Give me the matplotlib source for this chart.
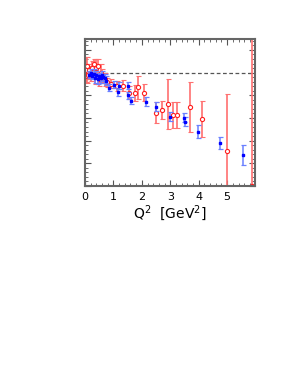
import matplotlib
matplotlib.use('Agg')
import matplotlib.pyplot as plt
import numpy as np
from matplotlib.ticker import MultipleLocator, NullFormatter

# red open circles: Q^2, ratio, error
red_q2 = [0.02, 0.03, 0.04, 0.05, 0.06, 0.08, 0.10, 0.12, 0.15, 0.20, 0.25, 0.30,
          0.35, 0.40, 0.45, 0.50, 0.55, 0.60, 0.70, 0.79, 0.92, 1.14, 1.35, 1.56,
          1.76, 1.86, 2.09, 2.51, 2.70, 2.91, 3.10, 3.25, 3.71, 4.12, 5.00, 5.87]
red_val = [1.00, 1.02, 0.99, 1.01, 0.985, 1.03, 1.00, 0.99, 1.01, 0.995, 1.02, 1.04,
           0.98, 1.02, 1.03, 0.97, 1.00, 0.985, 0.97, 0.957, 0.950, 0.941, 0.943, 0.912,
           0.909, 0.935, 0.912, 0.824, 0.836, 0.862, 0.812, 0.812, 0.850, 0.796, 0.654, 0.498]
red_err = [0.04, 0.05, 0.03, 0.02, 0.03, 0.04, 0.03, 0.02, 0.03, 0.03, 0.03, 0.02,
           0.03, 0.04, 0.03, 0.03, 0.04, 0.03, 0.03, 0.02, 0.02, 0.02, 0.025, 0.03,
           0.035, 0.05, 0.037, 0.045, 0.04, 0.11, 0.057, 0.057, 0.11, 0.08, 0.25, 0.70]

# blue filled squares
blue_q2 = [0.15, 0.20, 0.25, 0.30, 0.35, 0.40, 0.45, 0.50, 0.55, 0.60, 0.65, 0.70,
           0.75, 0.86, 1.03, 1.15, 1.21, 1.50, 1.53, 1.62, 2.15, 2.49, 2.99, 3.49,
           3.51, 3.98, 4.75, 5.55]
blue_val = [0.99, 1.00, 0.985, 0.995, 0.975, 0.99, 0.97, 0.985, 0.975, 0.99, 0.98, 0.975,
            0.965, 0.934, 0.946, 0.913, 0.943, 0.899, 0.943, 0.876, 0.872, 0.850, 0.805, 0.800,
            0.784, 0.740, 0.690, 0.637]
blue_err = [0.015, 0.015, 0.015, 0.02, 0.02, 0.015, 0.02, 0.015, 0.02, 0.015, 0.015, 0.02,
            0.02, 0.015, 0.015, 0.015, 0.015, 0.015, 0.015, 0.015, 0.02, 0.02, 0.02, 0.02,
            0.02, 0.027, 0.027, 0.045]

fig = plt.figure(figsize=(2.84, 3.67), dpi=100)
ax = fig.add_axes([0.2993, 0.4932, 0.5986, 0.4005])

ax.axhline(1.0, color='#555555', ls=(0, (3, 2)), lw=0.9, zorder=1)

ax.errorbar(red_q2, red_val, yerr=red_err, fmt='o', mfc='white', mec='#ff2020',
            ms=3.0, mew=0.8, ecolor='#ff7070', elinewidth=1.2, capsize=1.8,
            capthick=0.9, zorder=2)
ax.errorbar(blue_q2, blue_val, yerr=blue_err, fmt='s', mfc='#0000ff', mec='#0000ff',
            ms=1.6, ecolor='#6a80ff', elinewidth=1.1, capsize=1.8, capthick=0.9,
            zorder=3)

ax.set_xlim(0, 5.98)
ax.set_ylim(0.5, 1.148)
ax.xaxis.set_major_locator(MultipleLocator(1))
ax.xaxis.set_minor_locator(MultipleLocator(0.2))
ax.yaxis.set_major_locator(MultipleLocator(0.1))
ax.yaxis.set_minor_locator(MultipleLocator(0.02))
ax.yaxis.set_major_formatter(NullFormatter())
ax.set_xticks([0, 1, 2, 3, 4, 5])
ax.tick_params(which='both', direction='in', top=True, right=True, color='#555555')
ax.tick_params(which='major', length=4, width=0.8, labelsize=8, pad=4)
ax.tick_params(which='minor', length=2, width=0.6)
for s in ax.spines.values():
    s.set_color('#666666')
    s.set_linewidth(1.5)

ax.set_xlabel(r'Q$^2$  [GeV$^2$]', fontsize=10, labelpad=1)

fig.savefig('out.png', dpi=100)
